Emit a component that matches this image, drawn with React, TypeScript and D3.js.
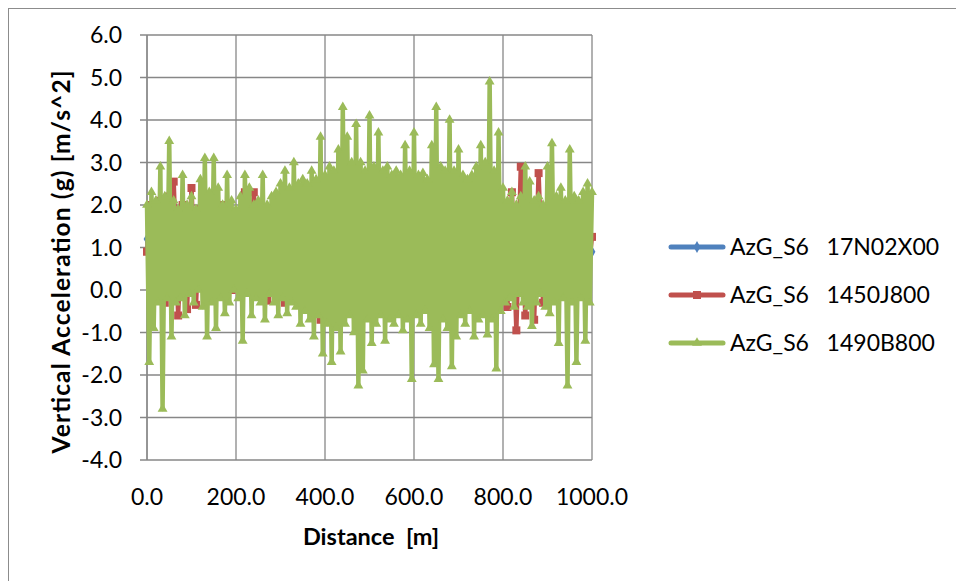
import React, { useEffect, useRef } from 'react';
import * as d3 from 'd3';

// distance sampling (m)
const GREEN_STEP = 5;
const RED_STEP = 10;
const BLUE_STEP = 10;

const yTicks = [-4, -3, -2, -1, 0, 1, 2, 3, 4, 5, 6];
const xTicks = [0, 200, 400, 600, 800, 1000];

const seriesNames = ['AzG_S6   17N02X00', 'AzG_S6   1450J800', 'AzG_S6   1490B800'];
const seriesColors = ['#4F81BD', '#C0504D', '#9BBB59'];

// AzG_S6 17N02X00 (mostly hidden under the other two)
const blueValues = [
  1.2, 0.4, 1.5, 0.3, 1.4, 0.5, 1.6, 0.4, 1.3, 0.6,
  1.5, 0.3, 1.4, 0.5, 1.6, 0.4, 1.5, 0.3, 1.4, 0.6,
  1.3, 0.4, 1.5, 0.5, 1.6, 0.3, 1.4, 0.4, 1.5, 0.6,
  1.4, 0.3, 1.6, 0.5, 1.5, 0.4, 1.3, 0.3, 1.6, 0.5,
  1.5, 0.4, 1.4, 0.3, 1.6, 0.6, 1.5, 0.4, 1.3, 0.5,
  1.6, 0.3, 1.4, 0.4, 1.5, 0.6, 1.6, 0.3, 1.4, 0.5,
  1.5, 0.4, 1.3, 0.3, 1.6, 0.5, 1.4, 0.4, 1.5, 0.6,
  1.4, 0.3, 1.5, 0.5, 1.6, 0.4, 1.3, 0.3, 1.5, 0.6,
  1.4, 0.5, 1.5, 0.4, 1.6, 0.3, 1.4, 0.5, 1.5, 0.4,
  1.3, 0.6, 1.4, 0.3, 1.5, 0.5, 1.4, 0.4, 1.2, 0.6,
  0.9,
];

// AzG_S6 1450J800
const redValues = [
  0.9, 2.0, 0.0, 2.1, -0.3, 2.2, 2.55, -0.6, 2.0, -0.45,
  2.4, -0.35, 1.9, 0.1, 1.8, 0.0, 2.0, -0.1, 2.0, 0.0,
  1.8, 0.1, 2.3, 0.2, 2.3, 0.0, 1.8, -0.25, 1.9, 0.2,
  1.8, -0.3, 1.9, 0.1, 2.0, 0.0, 1.8, 0.1, 2.1, -0.7,
  2.0, 0.0, 2.1, -0.2, 2.2, 0.0, 1.9, 0.1, 2.0, -0.1,
  2.1, 0.0, 1.9, -0.2, 2.0, 0.1, 2.2, 0.0, 1.9, -0.1,
  2.0, 0.0, 2.1, -0.1, 1.9, 0.1, 2.2, 0.0, 2.0, -0.2,
  2.1, 0.0, 1.9, 0.1, 2.0, -0.1, 2.1, 0.0, 1.9, 0.1,
  2.0, -0.4, 2.3, -0.95, 2.9, -0.6, 2.0, -0.7, 2.75, -0.3,
  1.9, 0.0, 1.8, 0.1, 1.7, 0.2, 1.8, 0.0, 1.2, 0.3,
  1.25,
];

// AzG_S6 1490B800
const greenValues = [
  2.0, -1.7, 2.3, -0.9, 2.1, -0.3, 2.9, -2.8, 2.2, -0.2,
  3.5, -1.1, 2.1, -0.3, 1.9, -0.2, 2.7, -0.6, 2.0, -0.1,
  2.2, -0.3, 1.9, 0.0, 2.6, -0.4, 3.1, -1.1, 2.3, -0.3,
  3.1, -0.9, 2.4, -0.2, 2.0, -0.55, 2.7, -0.3, 2.1, 0.0,
  1.9, -0.2, 2.2, -1.2, 2.7, -0.1, 2.4, -0.6, 2.0, -0.2,
  2.1, -0.3, 2.7, -0.7, 2.0, -0.1, 2.2, -0.3, 2.3, -0.6,
  2.5, -0.2, 2.8, -0.55, 2.4, -0.3, 3.0, -0.4, 2.5, -0.8,
  2.6, -0.5, 2.5, -0.7, 2.8, -1.1, 2.6, -0.6, 3.6, -1.5,
  2.7, -0.8, 2.9, -1.7, 2.8, -0.9, 3.3, -1.45, 4.3, -0.8,
  3.6, -0.6, 3.0, -1.0, 3.9, -2.25, 3.0, -1.9, 2.8, -0.7,
  4.1, -1.25, 2.9, -0.8, 3.7, -0.6, 2.8, -1.2, 2.9, -0.7,
  2.7, -0.8, 2.8, -0.6, 2.7, -0.95, 3.4, -0.7, 2.8, -2.1,
  3.7, -0.6, 2.7, -0.8, 2.75, -0.5, 2.6, -0.9, 3.4, -1.75,
  4.3, -2.1, 2.9, -0.7, 2.8, -0.9, 4.0, -1.8, 2.8, -1.1,
  3.3, -0.6, 2.7, -0.8, 2.6, -0.5, 2.7, -1.1, 2.9, -0.7,
  3.4, -0.6, 3.0, -1.05, 4.9, -0.7, 2.8, -1.85, 3.7, -0.5,
  2.4, -0.3, 2.1, -0.2, 2.3, -0.4, 2.0, -0.1, 2.2, -0.3,
  2.9, -0.4, 2.55, -0.85, 2.1, -0.3, 2.2, -0.1, 2.0, -0.4,
  2.9, -0.55, 3.45, -0.3, 2.2, -1.25, 2.4, -0.2, 2.1, -2.25,
  3.3, -0.3, 2.2, -1.7, 2.1, -0.2, 2.3, -1.2, 2.5, -0.3,
  2.3,
];

const FONT = 'Lato, Calibri, sans-serif';

// Excel style: plain hyphen for negatives, one decimal
const fmt = (d: number) => d.toFixed(1);

const App = () => {
  const chartRef = useRef<SVGSVGElement | null>(null);

  useEffect(() => {
    const width = 956;
    const height = 581;
    const plot = { left: 147, right: 592, top: 35, bottom: 460 };

    const svg = d3.select(chartRef.current);
    svg.selectAll('*').remove();

    svg.append('rect')
      .attr('width', width).attr('height', height).attr('fill', '#fff');

    // chart area border
    svg.append('rect')
      .attr('x', 8.5).attr('y', 8.5)
      .attr('width', width).attr('height', height)
      .attr('fill', 'none').attr('stroke', '#8c8c8c').attr('stroke-width', 1);

    const x = d3.scaleLinear().domain([0, 1000]).range([plot.left, plot.right]);
    const y = d3.scaleLinear().domain([-4, 6]).range([plot.bottom, plot.top]);

    const grid = svg.append('g').attr('stroke', '#878787').attr('stroke-width', 1.3);

    // horizontal gridlines + tick marks
    grid.selectAll('.hg')
      .data(yTicks)
      .enter()
      .append('line')
      .attr('x1', plot.left - 7)
      .attr('x2', plot.right)
      .attr('y1', d => y(d))
      .attr('y2', d => y(d));

    // vertical gridlines
    grid.selectAll('.vg')
      .data(xTicks)
      .enter()
      .append('line')
      .attr('x1', d => x(d))
      .attr('x2', d => x(d))
      .attr('y1', plot.top)
      .attr('y2', plot.bottom);

    // y axis line
    grid.append('line')
      .attr('x1', plot.left).attr('x2', plot.left)
      .attr('y1', plot.top).attr('y2', plot.bottom);

    // tick labels
    svg.selectAll('.yl')
      .data(yTicks)
      .enter()
      .append('text')
      .attr('x', 122)
      .attr('y', d => y(d))
      .attr('dy', '0.36em')
      .attr('text-anchor', 'end')
      .attr('font-family', FONT)
      .attr('font-size', 23)
      .attr('fill', '#000')
      .text(d => fmt(d));

    svg.selectAll('.xl')
      .data(xTicks)
      .enter()
      .append('text')
      .attr('x', d => x(d))
      .attr('y', 497)
      .attr('dy', '0.36em')
      .attr('text-anchor', 'middle')
      .attr('font-family', FONT)
      .attr('font-size', 23)
      .attr('fill', '#000')
      .text(d => fmt(d));

    // axis titles
    svg.append('text')
      .attr('x', 371)
      .attr('y', 537)
      .attr('dy', '0.36em')
      .attr('text-anchor', 'middle')
      .attr('font-family', FONT)
      .attr('font-size', 23.5)
      .attr('font-weight', 'bold')
      .attr('xml:space', 'preserve')
      .style('white-space', 'pre')
      .text('Distance  [m]');

    svg.append('text')
      .attr('transform', `translate(61, 262) rotate(-90)`)
      .attr('dy', '0.36em')
      .attr('text-anchor', 'middle')
      .attr('font-family', FONT)
      .attr('font-size', 24.5)
      .attr('font-weight', 'bold')
      .attr('textLength', 383)
      .attr('lengthAdjust', 'spacing')
      .text('Vertical Acceleration (g) [m/s^2]');

    // series
    const series = [
      { values: blueValues, step: BLUE_STEP, symbol: d3.symbolDiamond, size: 40 },
      { values: redValues, step: RED_STEP, symbol: d3.symbolSquare, size: 64 },
      { values: greenValues, step: GREEN_STEP, symbol: d3.symbolTriangle, size: 42 },
    ];

    const line = d3.line<[number, number]>()
      .x(d => x(d[0]))
      .y(d => y(d[1]));

    series.forEach((s, k) => {
      const pts: [number, number][] = s.values.map((v, i) => [i * s.step, v]);
      const g = svg.append('g');
      g.append('path')
        .datum(pts)
        .attr('d', line)
        .attr('fill', 'none')
        .attr('stroke', seriesColors[k])
        .attr('stroke-width', 4.5)
        .attr('stroke-linejoin', 'round')
        .attr('stroke-linecap', 'round');
      g.selectAll('.m')
        .data(pts)
        .enter()
        .append('path')
        .attr('transform', d => `translate(${x(d[0])}, ${y(d[1])})`)
        .attr('d', d3.symbol().type(s.symbol).size(s.size)())
        .attr('fill', seriesColors[k]);
    });

    // legend
    const legend = svg.append('g');
    const legendY = [247, 295, 343];
    series.forEach((s, k) => {
      legend.append('line')
        .attr('x1', 671).attr('x2', 723)
        .attr('y1', legendY[k]).attr('y2', legendY[k])
        .attr('stroke', seriesColors[k])
        .attr('stroke-width', 5)
        .attr('stroke-linecap', 'round');
      legend.append('path')
        .attr('transform', `translate(697, ${legendY[k]})`)
        .attr('d', d3.symbol().type(s.symbol).size(s.size)())
        .attr('fill', seriesColors[k]);
      legend.append('text')
        .attr('x', 730)
        .attr('y', legendY[k])
        .attr('dy', '0.36em')
        .attr('font-family', FONT)
        .attr('font-size', 23)
        .attr('fill', '#000')
        .attr('xml:space', 'preserve')
        .style('white-space', 'pre')
        .text(seriesNames[k]);
    });

    return () => {
      d3.select(chartRef.current).selectAll('*').remove();
    };
  }, []);

  return (
    <svg
      ref={chartRef}
      width={956}
      height={581}
      style={{ position: 'absolute', left: 0, top: 0, display: 'block' }}
    />
  );
};

export default App;
